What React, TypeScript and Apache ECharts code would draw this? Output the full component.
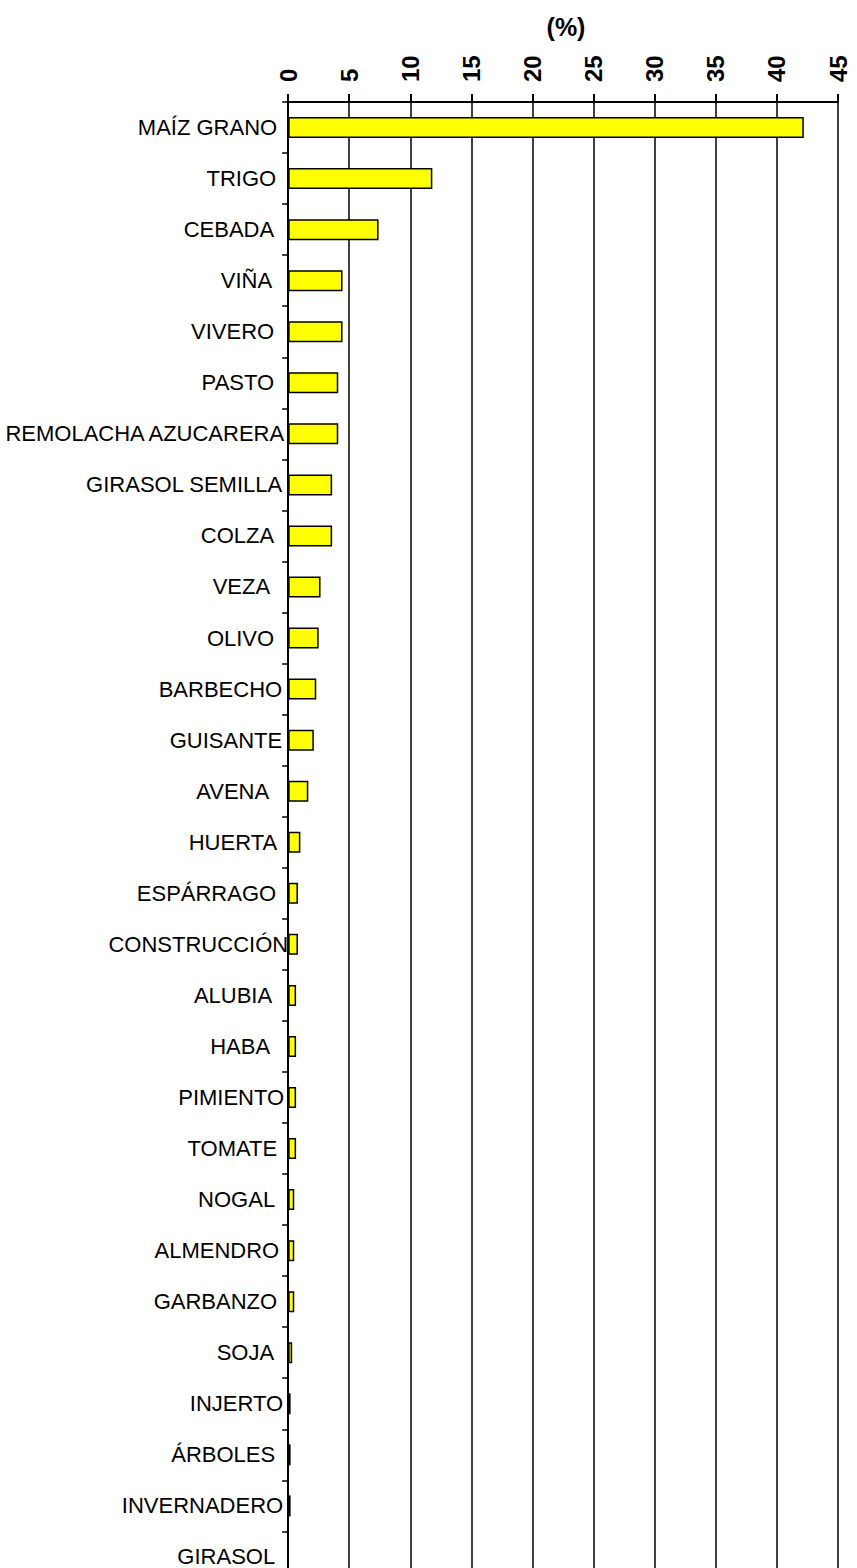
import React, { useEffect, useRef } from "react";
import * as echarts from "echarts";

const categories = [
  "MAÍZ GRANO", "TRIGO", "CEBADA", "VIÑA", "VIVERO", "PASTO", "REMOLACHA AZUCARERA",
  "GIRASOL SEMILLA", "COLZA", "VEZA", "OLIVO", "BARBECHO", "GUISANTE", "AVENA",
  "HUERTA", "ESPÁRRAGO", "CONSTRUCCIÓN", "ALUBIA", "HABA", "PIMIENTO", "TOMATE",
  "NOGAL", "ALMENDRO", "GARBANZO", "SOJA", "INJERTO", "ÁRBOLES", "INVERNADERO", "GIRASOL",
];

const values = [
  42.2, 11.8, 7.4, 4.45, 4.45, 4.1, 4.1,
  3.6, 3.6, 2.65, 2.5, 2.3, 2.1, 1.65,
  1.0, 0.8, 0.8, 0.65, 0.65, 0.65, 0.65,
  0.5, 0.5, 0.5, 0.33, 0.2, 0.2, 0.2, 0,
];

// trailing blank space after each category label (px), as in the original labels
const labelGaps = [
  11, 12, 14, 16, 14, 14, 4,
  6, 14, 18, 14, 6, 6, 19,
  11, 12, 0, 16, 18, 4, 11,
  13, 9, 11, 14, 5, 13, 5, 13,
];

const xMin = 0;
const xMax = 45;
const xInterval = 5;
const axisTitle = "(%)";

const FONT = "'Liberation Sans', Arial, sans-serif";

export default function App() {
  const ref = useRef<HTMLDivElement>(null);

  useEffect(() => {
    if (!ref.current) return;
    const chart = echarts.init(ref.current, null, { renderer: "svg" });

    const rich: Record<string, any> = {
      t: { fontFamily: FONT, fontSize: 22, color: "#000" },
    };
    labelGaps.forEach((g) => {
      if (g > 0) rich["g" + g] = { width: g, fontFamily: FONT, fontSize: 22 };
    });

    const top = 102;
    const band = 51.05;
    const left = 288;
    const width = 550;

    chart.setOption({
      animation: false,
      backgroundColor: "#fff",
      grid: {
        left,
        top,
        width,
        height: band * categories.length,
        containLabel: false,
      },
      graphic: [
        {
          type: "text",
          x: 566,
          y: 27,
          style: {
            text: axisTitle,
            font: `bold 25px ${FONT}`,
            fill: "#000",
            textAlign: "center",
            textVerticalAlign: "middle",
          },
        },
      ],
      xAxis: {
        type: "value",
        position: "top",
        min: xMin,
        max: xMax,
        interval: xInterval,
        axisLine: { show: true, lineStyle: { color: "#000", width: 2 } },
        axisTick: { show: true, length: 8, lineStyle: { color: "#000", width: 2 } },
        splitLine: { show: true, lineStyle: { color: "#000", width: 1.5 } },
        axisLabel: {
          rotate: -90,
          margin: 20,
          color: "#000",
          fontFamily: FONT,
          fontSize: 24,
          fontWeight: "bold",
          showMinLabel: true,
          showMaxLabel: true,
        },
      },
      yAxis: {
        type: "category",
        inverse: true,
        data: categories,
        axisLine: { show: true, lineStyle: { color: "#000", width: 2 } },
        axisTick: { show: true, length: 6, lineStyle: { color: "#000", width: 1.5 } },
        splitLine: { show: false },
        axisLabel: {
          margin: 0,
          interval: 0,
          color: "#000",
          fontFamily: FONT,
          fontSize: 22,
          formatter: (v: string, i: number) => {
            const g = labelGaps[i] || 0;
            return g > 0 ? `{t|${v}}{g${g}| }` : `{t|${v}}`;
          },
          rich,
        },
      },
      series: [
        {
          type: "bar",
          data: values,
          barWidth: 21,
          itemStyle: {
            color: "#FFFF00",
            borderColor: "#000",
            borderWidth: 1.5,
          },
        },
      ],
    });

    return () => chart.dispose();
  }, []);

  return (
    <div
      style={{
        position: "absolute",
        left: 0,
        top: 0,
        width: 857,
        height: 1568,
        overflow: "hidden",
      }}
    >
      <div ref={ref} style={{ width: 857, height: 1600 }} />
    </div>
  );
}
